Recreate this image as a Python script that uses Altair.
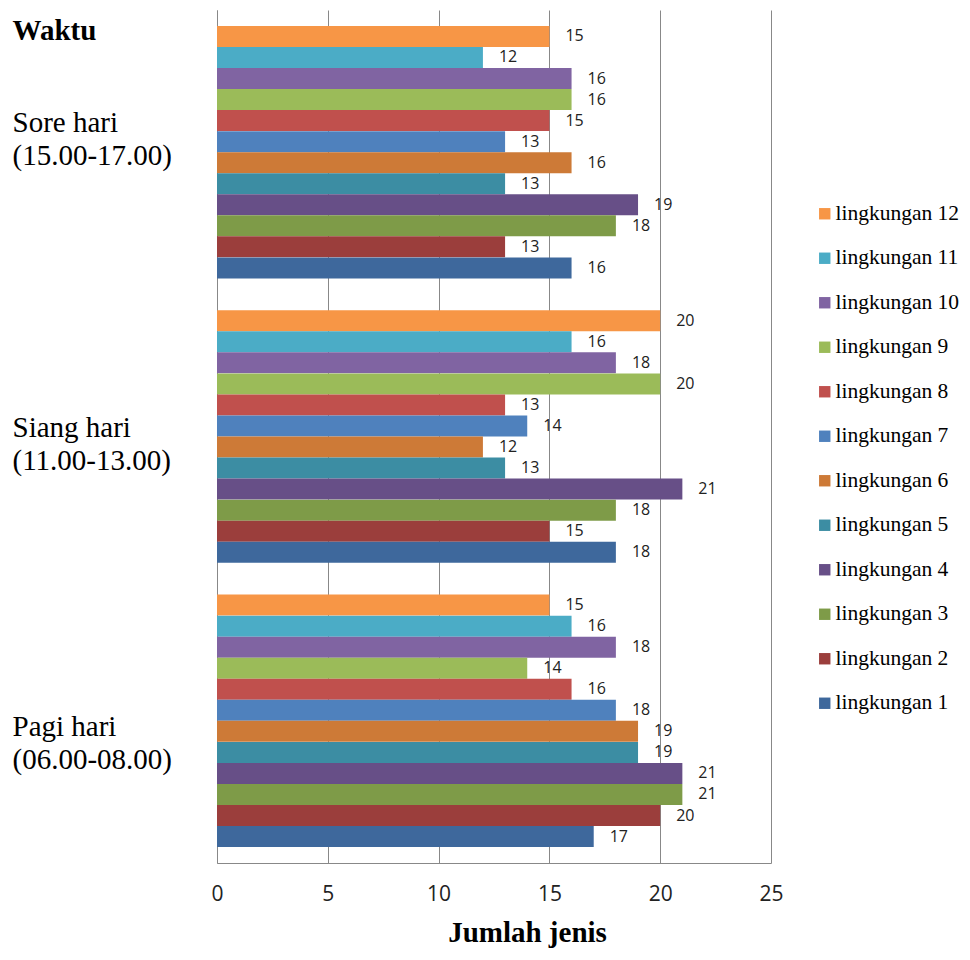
import altair as alt
import pandas as pd

waktu = ["Sore hari|(15.00-17.00)", "Siang hari|(11.00-13.00)", "Pagi hari|(06.00-08.00)"]
lingkungan = [f"lingkungan {i}" for i in range(12, 0, -1)]  # 12 .. 1 (top to bottom)

# values listed lingkungan 12 -> 1
sore = [15, 12, 16, 16, 15, 13, 16, 13, 19, 18, 13, 16]
siang = [20, 16, 18, 20, 13, 14, 12, 13, 21, 18, 15, 18]
pagi = [15, 16, 18, 14, 16, 18, 19, 19, 21, 21, 20, 17]

colors = ["#F79646", "#4BACC6", "#8064A2", "#9BBB59", "#C0504D", "#4F81BD",
          "#CD7A37", "#3C8DA3", "#674F87", "#7E9B48", "#9B3E3C", "#3E689C"]

rows = []
for w, vals in zip(waktu, [sore, siang, pagi]):
    for l, v in zip(lingkungan, vals):
        rows.append({"Waktu": w, "Lingkungan": l, "Jumlah": v})
df = pd.DataFrame(rows)

serif = "Liberation Serif"
sans = "Open Sans"

label_offset = alt.ExprRef(
    "indexof(datum.label, 'Sore') >= 0 ? -29 : (indexof(datum.label, 'Siang') >= 0 ? -9 : 6)"
)

y_enc = alt.Y(
    "Waktu:N",
    sort=waktu,
    scale=alt.Scale(paddingInner=0.112, paddingOuter=0.056),
    axis=alt.Axis(
        title="Waktu",
        titleFont=serif, titleFontSize=29, titleFontWeight="bold", titleColor="black",
        titleAngle=0, titleAlign="left", titleBaseline="alphabetic",
        titleX=-205, titleY=29,
        labelExpr="split(datum.label, '|')",
        labelFont=serif, labelFontSize=29, labelColor="black",
        labelAlign="left", labelPadding=205, labelLineHeight=33, labelBaseline="middle",
        labelOffset=label_offset,
        ticks=False, grid=False, domain=True, domainColor="#888888",
    ),
)
yoff = alt.YOffset("Lingkungan:N", sort=lingkungan, scale=alt.Scale(paddingInner=0, paddingOuter=0))

x_enc = alt.X(
    "Jumlah:Q",
    scale=alt.Scale(domain=[0, 25], nice=False),
    axis=alt.Axis(
        values=[0, 5, 10, 15, 20, 25],
        title="Jumlah jenis",
        titleFont=serif, titleFontSize=29, titleFontWeight="bold", titleColor="black",
        titleX=310, titleY=78, titleAlign="center", titleBaseline="alphabetic",
        labelFont=sans, labelFontSize=21, labelColor="#222222", labelPadding=20,
        labelFlush=False,
        ticks=False, grid=True, gridColor="#888888", gridWidth=1,
        domain=True, domainColor="#888888",
    ),
)

bars = alt.Chart(df).mark_bar(size=21).encode(
    y=y_enc,
    yOffset=yoff,
    x=x_enc,
    color=alt.Color(
        "Lingkungan:N",
        scale=alt.Scale(domain=lingkungan, range=colors),
        legend=alt.Legend(
            title=None, orient="none", legendX=597, legendY=193,
            symbolType="square", symbolSize=130, symbolStrokeWidth=0,
            labelFont=serif, labelFontSize=21.5, labelColor="black",
            rowPadding=21.5, labelOffset=0, labelLimit=300,
        ),
    ),
)

labels = alt.Chart(df).mark_text(align="left", dx=16, font=sans, fontSize=16, color="#222222").encode(
    y=alt.Y("Waktu:N", sort=waktu),
    yOffset=yoff,
    x="Jumlah:Q",
    text="Jumlah:Q",
)

chart = alt.layer(bars, labels).properties(
    width=554, height=853,
    autosize=alt.AutoSizeParams(type="none"),
    padding={"left": 209, "top": 2, "right": 191, "bottom": 85},
).configure_view(stroke=None)

chart.save("out.html", embed_options={"renderer": "svg", "actions": False})
